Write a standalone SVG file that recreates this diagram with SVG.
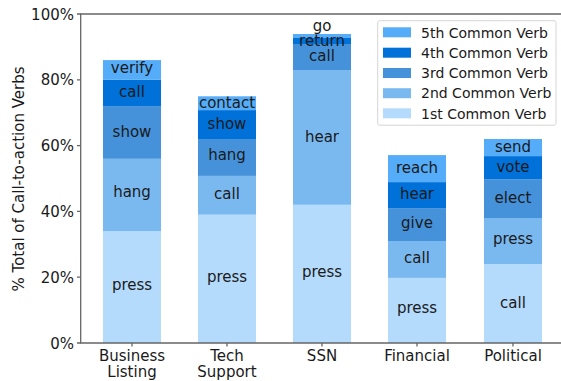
<svg xmlns="http://www.w3.org/2000/svg" width="561" height="381" viewBox="0 0 561 381">
<style>
text{font-family:"DejaVu Sans","Liberation Sans",sans-serif;fill:#1a1a1a}
.lab{font-size:15px;text-anchor:middle}
.tick{font-size:15px}
.leg{font-size:14px}
.c1{fill:#b5dbfc}.c2{fill:#7ab9f0}.c3{fill:#4592da}.c4{fill:#0071d8}.c5{fill:#55acf8}
.ax{stroke:#666;stroke-width:1.3;fill:none}
</style>
<rect width="561" height="381" fill="#fff"/>
<g id="bar-business">
<rect class="c1" x="103" y="231.1" width="58" height="111.9"/>
<rect class="c2" x="103" y="158.8" width="58" height="72.3"/>
<rect class="c3" x="103" y="106.1" width="58" height="52.7"/>
<rect class="c4" x="103" y="79.8" width="58" height="26.3"/>
<rect class="c5" x="103" y="60.1" width="58" height="19.7"/>
<text class="lab" x="132" y="290">press</text>
<text class="lab" x="132" y="197">hang</text>
<text class="lab" x="132" y="137">show</text>
<text class="lab" x="132" y="97">call</text>
<text class="lab" x="132" y="73">verify</text>
</g>
<g id="bar-tech">
<rect class="c1" x="198" y="214.7" width="58" height="128.3"/>
<rect class="c2" x="198" y="175.9" width="58" height="38.8"/>
<rect class="c3" x="198" y="139" width="58" height="36.9"/>
<rect class="c4" x="198" y="110.1" width="58" height="28.9"/>
<rect class="c5" x="198" y="96.3" width="58" height="13.8"/>
<text class="lab" x="227" y="282">press</text>
<text class="lab" x="227" y="199">call</text>
<text class="lab" x="227" y="160">hang</text>
<text class="lab" x="227" y="129">show</text>
<text class="lab" x="227" y="108">contact</text>
</g>
<g id="bar-ssn">
<rect class="c1" x="293" y="204.8" width="58" height="138.2"/>
<rect class="c2" x="293" y="70" width="58" height="134.8"/>
<rect class="c3" x="293" y="44" width="58" height="26"/>
<rect class="c4" x="293" y="38" width="58" height="6"/>
<rect class="c5" x="293" y="34" width="58" height="4"/>
<text class="lab" x="322" y="277">press</text>
<text class="lab" x="322" y="142">hear</text>
<text class="lab" x="322" y="61">call</text>
<text class="lab" x="322" y="45.5">return</text>
<text class="lab" x="322" y="31">go</text>
</g>
<g id="bar-financial">
<rect class="c1" x="388" y="277.9" width="58" height="65.1"/>
<rect class="c2" x="388" y="241" width="58" height="36.9"/>
<rect class="c3" x="388" y="208.1" width="58" height="32.9"/>
<rect class="c4" x="388" y="182.1" width="58" height="26"/>
<rect class="c5" x="388" y="155.1" width="58" height="27"/>
<text class="lab" x="417" y="312.5">press</text>
<text class="lab" x="417" y="263.3">call</text>
<text class="lab" x="417" y="227.5">give</text>
<text class="lab" x="417" y="199">hear</text>
<text class="lab" x="417" y="173">reach</text>
</g>
<g id="bar-political">
<rect class="c1" x="484" y="264" width="58" height="79"/>
<rect class="c2" x="484" y="218" width="58" height="46"/>
<rect class="c3" x="484" y="179.2" width="58" height="38.8"/>
<rect class="c4" x="484" y="156.1" width="58" height="23.1"/>
<rect class="c5" x="484" y="139" width="58" height="17.1"/>
<text class="lab" x="513" y="308">call</text>
<text class="lab" x="513" y="243.5">press</text>
<text class="lab" x="513" y="202.5">elect</text>
<text class="lab" x="513" y="171.7">vote</text>
<text class="lab" x="513" y="152">send</text>
</g>
<g id="axes">
<path class="ax" d="M80.7 14V343M80 343H561M80 14H561"/>
<path class="ax" d="M77 343H80.7M77 277.2H80.7M77 211.4H80.7M77 145.6H80.7M77 79.8H80.7M77 14H80.7"/>
<path class="ax" d="M132 343V346.5M227 343V346.5M322 343V346.5M417 343V346.5M513 343V346.5"/>
<g class="tick" text-anchor="end">
<text x="74" y="348.5">0%</text>
<text x="74" y="282.7">20%</text>
<text x="74" y="216.9">40%</text>
<text x="74" y="151.1">60%</text>
<text x="74" y="85.3">80%</text>
<text x="74" y="19.5">100%</text>
</g>
<g class="tick" text-anchor="middle">
<text x="132" y="360.5">Business</text>
<text x="132" y="377">Listing</text>
<text x="227" y="360.5">Tech</text>
<text x="227" y="377">Support</text>
<text x="322" y="360.5">SSN</text>
<text x="417" y="360.5">Financial</text>
<text x="513" y="360.5">Political</text>
</g>
<text class="tick" text-anchor="middle" transform="translate(23.5 179) rotate(-90)">% Total of Call-to-action Verbs</text>
</g>
<g id="legend">
<rect x="377.7" y="20.7" width="178.3" height="104.5" rx="2" fill="#fff" fill-opacity="0.8" stroke="#d6d6d6" stroke-width="1"/>
<rect class="c5" x="383" y="27.3" width="28" height="10"/>
<rect class="c4" x="383" y="47.7" width="28" height="10"/>
<rect class="c3" x="383" y="68" width="28" height="10"/>
<rect class="c2" x="383" y="88.2" width="28" height="10"/>
<rect class="c1" x="383" y="108.3" width="28" height="10"/>
<text class="leg" x="421" y="37.5">5th Common Verb</text>
<text class="leg" x="421" y="57.8">4th Common Verb</text>
<text class="leg" x="421" y="78">3rd Common Verb</text>
<text class="leg" x="421" y="98.3">2nd Common Verb</text>
<text class="leg" x="421" y="118.5">1st Common Verb</text>
</g>
</svg>
